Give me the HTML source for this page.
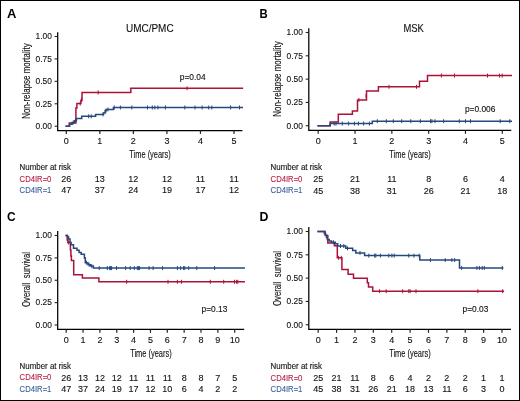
<!DOCTYPE html>
<html><head><meta charset="utf-8"><style>
html,body{margin:0;padding:0;background:#fff;}
body{width:520px;height:401px;overflow:hidden;}
svg{display:block;will-change:transform;}
svg text{font-family:"Liberation Sans", sans-serif;}
</style></head><body>
<svg width="520" height="401" viewBox="0 0 520 401">

<path d="M57.7,32.2 L57.7,130.5 L242.4,130.5" fill="none" stroke="#000" stroke-width="1.25"/>
<path d="M54.6,126.20 H57.7" stroke="#222" stroke-width="1.1"/>
<text x="51.80" y="129.00" font-size="9.1" text-anchor="end" fill="#111" stroke="#111" stroke-width="0.12" font-weight="normal" textLength="16.3" lengthAdjust="spacingAndGlyphs">0.00</text>
<path d="M54.6,103.78 H57.7" stroke="#222" stroke-width="1.1"/>
<text x="51.80" y="106.58" font-size="9.1" text-anchor="end" fill="#111" stroke="#111" stroke-width="0.12" font-weight="normal" textLength="16.3" lengthAdjust="spacingAndGlyphs">0.25</text>
<path d="M54.6,81.35 H57.7" stroke="#222" stroke-width="1.1"/>
<text x="51.80" y="84.15" font-size="9.1" text-anchor="end" fill="#111" stroke="#111" stroke-width="0.12" font-weight="normal" textLength="16.3" lengthAdjust="spacingAndGlyphs">0.50</text>
<path d="M54.6,58.92 H57.7" stroke="#222" stroke-width="1.1"/>
<text x="51.80" y="61.72" font-size="9.1" text-anchor="end" fill="#111" stroke="#111" stroke-width="0.12" font-weight="normal" textLength="16.3" lengthAdjust="spacingAndGlyphs">0.75</text>
<path d="M54.6,36.50 H57.7" stroke="#222" stroke-width="1.1"/>
<text x="51.80" y="39.30" font-size="9.1" text-anchor="end" fill="#111" stroke="#111" stroke-width="0.12" font-weight="normal" textLength="16.3" lengthAdjust="spacingAndGlyphs">1.00</text>
<path d="M66.30,130.5 V133.9" stroke="#222" stroke-width="1.2"/>
<text x="66.30" y="143.6" font-size="9" text-anchor="middle" fill="#111" stroke="#111" stroke-width="0.12" font-weight="normal">0</text>
<path d="M99.84,130.5 V133.9" stroke="#222" stroke-width="1.2"/>
<text x="99.84" y="143.6" font-size="9" text-anchor="middle" fill="#111" stroke="#111" stroke-width="0.12" font-weight="normal">1</text>
<path d="M133.38,130.5 V133.9" stroke="#222" stroke-width="1.2"/>
<text x="133.38" y="143.6" font-size="9" text-anchor="middle" fill="#111" stroke="#111" stroke-width="0.12" font-weight="normal">2</text>
<path d="M166.92,130.5 V133.9" stroke="#222" stroke-width="1.2"/>
<text x="166.92" y="143.6" font-size="9" text-anchor="middle" fill="#111" stroke="#111" stroke-width="0.12" font-weight="normal">3</text>
<path d="M200.46,130.5 V133.9" stroke="#222" stroke-width="1.2"/>
<text x="200.46" y="143.6" font-size="9" text-anchor="middle" fill="#111" stroke="#111" stroke-width="0.12" font-weight="normal">4</text>
<path d="M234.00,130.5 V133.9" stroke="#222" stroke-width="1.2"/>
<text x="234.00" y="143.6" font-size="9" text-anchor="middle" fill="#111" stroke="#111" stroke-width="0.12" font-weight="normal">5</text>
<text x="150.05" y="157.8" font-size="10" text-anchor="middle" fill="#111" stroke="#111" stroke-width="0.12" font-weight="normal" textLength="41.5" lengthAdjust="spacingAndGlyphs">Time (years)</text>
<text transform="translate(29.6,81.1) rotate(-90)" x="0" y="0" font-size="10" text-anchor="middle" fill="#111" stroke="#111" stroke-width="0.12" textLength="75.4" lengthAdjust="spacingAndGlyphs">Non-relapse mortality</text>
<text x="149.8" y="31.8" font-size="10.3" text-anchor="middle" fill="#111" stroke="#111" stroke-width="0.12" font-weight="normal" textLength="47.6" lengthAdjust="spacingAndGlyphs">UMC/PMC</text>
<text x="179.8" y="79.90" font-size="8.4" text-anchor="start" fill="#111" stroke="#111" stroke-width="0.12" font-weight="normal">p=0.04</text>
<path d="M66.30,126.30 L69.30,126.30 L69.30,122.90 L75.90,122.90 L75.90,108.00 L76.90,108.00 L76.90,103.60 L80.90,103.60 L80.90,100.50 L82.00,100.50 L82.00,92.40 L130.80,92.40 L130.80,88.30 L242.40,88.30" fill="none" stroke="#aa1238" stroke-width="1.5" stroke-linejoin="miter" stroke-linecap="square"/>
<path d="M80.20,101.60 V105.60" stroke="#aa1238" stroke-width="1"/>
<path d="M81.40,97.80 V101.80" stroke="#aa1238" stroke-width="1"/>
<path d="M98.20,90.40 V94.40" stroke="#aa1238" stroke-width="1"/>
<path d="M187.10,86.30 V90.30" stroke="#aa1238" stroke-width="1"/>
<path d="M66.30,126.20 L69.60,126.20 L69.60,124.30 L72.10,124.30 L72.10,122.60 L74.40,122.60 L74.40,120.70 L76.40,120.70 L76.40,118.50 L81.70,118.50 L81.70,116.30 L95.60,116.30 L95.60,114.40 L103.50,114.40 L103.50,112.90 L105.10,112.90 L105.10,110.60 L106.50,110.60 L106.50,109.40 L113.40,109.40 L113.40,107.50 L242.30,107.50" fill="none" stroke="#26487d" stroke-width="1.5" stroke-linejoin="miter" stroke-linecap="square"/>
<path d="M73.20,120.60 V124.60" stroke="#26487d" stroke-width="1"/>
<path d="M75.40,118.70 V122.70" stroke="#26487d" stroke-width="1"/>
<path d="M88.70,114.30 V118.30" stroke="#26487d" stroke-width="1"/>
<path d="M91.20,114.30 V118.30" stroke="#26487d" stroke-width="1"/>
<path d="M103.00,112.40 V116.40" stroke="#26487d" stroke-width="1"/>
<path d="M106.00,108.60 V112.60" stroke="#26487d" stroke-width="1"/>
<path d="M108.00,107.40 V111.40" stroke="#26487d" stroke-width="1"/>
<path d="M114.30,105.50 V109.50" stroke="#26487d" stroke-width="1"/>
<path d="M120.40,105.50 V109.50" stroke="#26487d" stroke-width="1"/>
<path d="M131.80,105.50 V109.50" stroke="#26487d" stroke-width="1"/>
<path d="M147.50,105.50 V109.50" stroke="#26487d" stroke-width="1"/>
<path d="M152.30,105.50 V109.50" stroke="#26487d" stroke-width="1"/>
<path d="M154.80,105.50 V109.50" stroke="#26487d" stroke-width="1"/>
<path d="M157.90,105.50 V109.50" stroke="#26487d" stroke-width="1"/>
<path d="M165.40,105.50 V109.50" stroke="#26487d" stroke-width="1"/>
<path d="M184.80,105.50 V109.50" stroke="#26487d" stroke-width="1"/>
<path d="M195.00,105.50 V109.50" stroke="#26487d" stroke-width="1"/>
<path d="M202.10,105.50 V109.50" stroke="#26487d" stroke-width="1"/>
<path d="M208.70,105.50 V109.50" stroke="#26487d" stroke-width="1"/>
<path d="M211.80,105.50 V109.50" stroke="#26487d" stroke-width="1"/>
<path d="M230.60,105.50 V109.50" stroke="#26487d" stroke-width="1"/>
<path d="M239.50,105.50 V109.50" stroke="#26487d" stroke-width="1"/>
<text x="7.1" y="17.9" font-size="12" text-anchor="start" fill="#000" font-weight="bold" textLength="9.4" lengthAdjust="spacingAndGlyphs">A</text>
<text x="19.6" y="169.60" font-size="8.4" text-anchor="start" fill="#111" stroke="#111" stroke-width="0.12" font-weight="normal" textLength="51.4" lengthAdjust="spacingAndGlyphs">Number at risk</text>
<text x="19.6" y="181.50" font-size="8.6" text-anchor="start" fill="#b51f45" stroke="#b51f45" stroke-width="0.12" font-weight="normal" textLength="31.8" lengthAdjust="spacingAndGlyphs">CD4IR=0</text>
<text x="19.6" y="193.00" font-size="8.6" text-anchor="start" fill="#3a5f9c" stroke="#3a5f9c" stroke-width="0.12" font-weight="normal" textLength="31.8" lengthAdjust="spacingAndGlyphs">CD4IR=1</text>
<text x="66.30" y="181.80" font-size="9" text-anchor="middle" fill="#111" stroke="#111" stroke-width="0.12" font-weight="normal">26</text>
<text x="99.84" y="181.80" font-size="9" text-anchor="middle" fill="#111" stroke="#111" stroke-width="0.12" font-weight="normal">13</text>
<text x="133.38" y="181.80" font-size="9" text-anchor="middle" fill="#111" stroke="#111" stroke-width="0.12" font-weight="normal">12</text>
<text x="166.92" y="181.80" font-size="9" text-anchor="middle" fill="#111" stroke="#111" stroke-width="0.12" font-weight="normal">12</text>
<text x="200.46" y="181.80" font-size="9" text-anchor="middle" fill="#111" stroke="#111" stroke-width="0.12" font-weight="normal">11</text>
<text x="234.00" y="181.80" font-size="9" text-anchor="middle" fill="#111" stroke="#111" stroke-width="0.12" font-weight="normal">11</text>
<text x="66.30" y="193.30" font-size="9" text-anchor="middle" fill="#111" stroke="#111" stroke-width="0.12" font-weight="normal">47</text>
<text x="99.84" y="193.30" font-size="9" text-anchor="middle" fill="#111" stroke="#111" stroke-width="0.12" font-weight="normal">37</text>
<text x="133.38" y="193.30" font-size="9" text-anchor="middle" fill="#111" stroke="#111" stroke-width="0.12" font-weight="normal">24</text>
<text x="166.92" y="193.30" font-size="9" text-anchor="middle" fill="#111" stroke="#111" stroke-width="0.12" font-weight="normal">19</text>
<text x="200.46" y="193.30" font-size="9" text-anchor="middle" fill="#111" stroke="#111" stroke-width="0.12" font-weight="normal">17</text>
<text x="234.00" y="193.30" font-size="9" text-anchor="middle" fill="#111" stroke="#111" stroke-width="0.12" font-weight="normal">12</text>
<path d="M308.8,28.2 L308.8,130.4 L511.3,130.4" fill="none" stroke="#000" stroke-width="1.25"/>
<path d="M305.7,125.75 H308.8" stroke="#222" stroke-width="1.1"/>
<text x="302.80" y="128.55" font-size="9.1" text-anchor="end" fill="#111" stroke="#111" stroke-width="0.12" font-weight="normal" textLength="16.3" lengthAdjust="spacingAndGlyphs">0.00</text>
<path d="M305.7,102.44 H308.8" stroke="#222" stroke-width="1.1"/>
<text x="302.80" y="105.24" font-size="9.1" text-anchor="end" fill="#111" stroke="#111" stroke-width="0.12" font-weight="normal" textLength="16.3" lengthAdjust="spacingAndGlyphs">0.25</text>
<path d="M305.7,79.12 H308.8" stroke="#222" stroke-width="1.1"/>
<text x="302.80" y="81.92" font-size="9.1" text-anchor="end" fill="#111" stroke="#111" stroke-width="0.12" font-weight="normal" textLength="16.3" lengthAdjust="spacingAndGlyphs">0.50</text>
<path d="M305.7,55.81 H308.8" stroke="#222" stroke-width="1.1"/>
<text x="302.80" y="58.61" font-size="9.1" text-anchor="end" fill="#111" stroke="#111" stroke-width="0.12" font-weight="normal" textLength="16.3" lengthAdjust="spacingAndGlyphs">0.75</text>
<path d="M305.7,32.50 H308.8" stroke="#222" stroke-width="1.1"/>
<text x="302.80" y="35.30" font-size="9.1" text-anchor="end" fill="#111" stroke="#111" stroke-width="0.12" font-weight="normal" textLength="16.3" lengthAdjust="spacingAndGlyphs">1.00</text>
<path d="M318.20,130.4 V133.8" stroke="#222" stroke-width="1.2"/>
<text x="318.20" y="143.7" font-size="9" text-anchor="middle" fill="#111" stroke="#111" stroke-width="0.12" font-weight="normal">0</text>
<path d="M355.02,130.4 V133.8" stroke="#222" stroke-width="1.2"/>
<text x="355.02" y="143.7" font-size="9" text-anchor="middle" fill="#111" stroke="#111" stroke-width="0.12" font-weight="normal">1</text>
<path d="M391.84,130.4 V133.8" stroke="#222" stroke-width="1.2"/>
<text x="391.84" y="143.7" font-size="9" text-anchor="middle" fill="#111" stroke="#111" stroke-width="0.12" font-weight="normal">2</text>
<path d="M428.66,130.4 V133.8" stroke="#222" stroke-width="1.2"/>
<text x="428.66" y="143.7" font-size="9" text-anchor="middle" fill="#111" stroke="#111" stroke-width="0.12" font-weight="normal">3</text>
<path d="M465.48,130.4 V133.8" stroke="#222" stroke-width="1.2"/>
<text x="465.48" y="143.7" font-size="9" text-anchor="middle" fill="#111" stroke="#111" stroke-width="0.12" font-weight="normal">4</text>
<path d="M502.30,130.4 V133.8" stroke="#222" stroke-width="1.2"/>
<text x="502.30" y="143.7" font-size="9" text-anchor="middle" fill="#111" stroke="#111" stroke-width="0.12" font-weight="normal">5</text>
<text x="410.05" y="157.8" font-size="10" text-anchor="middle" fill="#111" stroke="#111" stroke-width="0.12" font-weight="normal" textLength="41.5" lengthAdjust="spacingAndGlyphs">Time (years)</text>
<text transform="translate(280.8,79) rotate(-90)" x="0" y="0" font-size="10" text-anchor="middle" fill="#111" stroke="#111" stroke-width="0.12" textLength="75.4" lengthAdjust="spacingAndGlyphs">Non-relapse mortality</text>
<text x="413.6" y="31.8" font-size="10.3" text-anchor="middle" fill="#111" stroke="#111" stroke-width="0.12" font-weight="normal" textLength="20.4" lengthAdjust="spacingAndGlyphs">MSK</text>
<text x="464.9" y="111.50" font-size="8.4" text-anchor="start" fill="#111" stroke="#111" stroke-width="0.12" font-weight="normal">p=0.006</text>
<path d="M318.20,125.80 L330.20,125.80 L330.20,122.10 L338.30,122.10 L338.30,114.30 L352.40,114.30 L352.40,110.90 L357.50,110.90 L357.50,99.90 L366.50,99.90 L366.50,91.00 L378.40,91.00 L378.40,86.80 L419.50,86.80 L419.50,81.30 L427.50,81.30 L427.50,75.60 L511.30,75.60" fill="none" stroke="#aa1238" stroke-width="1.5" stroke-linejoin="miter" stroke-linecap="square"/>
<path d="M357.50,105.60 V109.60" stroke="#aa1238" stroke-width="1"/>
<path d="M358.90,97.90 V101.90" stroke="#aa1238" stroke-width="1"/>
<path d="M366.10,94.00 V98.00" stroke="#aa1238" stroke-width="1"/>
<path d="M389.00,84.80 V88.80" stroke="#aa1238" stroke-width="1"/>
<path d="M416.50,84.80 V88.80" stroke="#aa1238" stroke-width="1"/>
<path d="M441.40,73.60 V77.60" stroke="#aa1238" stroke-width="1"/>
<path d="M454.50,73.60 V77.60" stroke="#aa1238" stroke-width="1"/>
<path d="M487.50,73.60 V77.60" stroke="#aa1238" stroke-width="1"/>
<path d="M499.50,73.60 V77.60" stroke="#aa1238" stroke-width="1"/>
<path d="M502.20,73.60 V77.60" stroke="#aa1238" stroke-width="1"/>
<path d="M318.20,125.80 L330.20,125.80 L330.20,123.60 L372.30,123.60 L372.30,121.20 L511.30,121.20" fill="none" stroke="#26487d" stroke-width="1.5" stroke-linejoin="miter" stroke-linecap="square"/>
<path d="M334.20,121.60 V125.60" stroke="#26487d" stroke-width="1"/>
<path d="M336.00,121.60 V125.60" stroke="#26487d" stroke-width="1"/>
<path d="M342.30,121.60 V125.60" stroke="#26487d" stroke-width="1"/>
<path d="M348.60,121.60 V125.60" stroke="#26487d" stroke-width="1"/>
<path d="M354.40,121.60 V125.60" stroke="#26487d" stroke-width="1"/>
<path d="M358.40,121.60 V125.60" stroke="#26487d" stroke-width="1"/>
<path d="M363.60,121.60 V125.60" stroke="#26487d" stroke-width="1"/>
<path d="M369.40,121.60 V125.60" stroke="#26487d" stroke-width="1"/>
<path d="M377.30,119.20 V123.20" stroke="#26487d" stroke-width="1"/>
<path d="M386.30,119.20 V123.20" stroke="#26487d" stroke-width="1"/>
<path d="M393.30,119.20 V123.20" stroke="#26487d" stroke-width="1"/>
<path d="M401.70,119.20 V123.20" stroke="#26487d" stroke-width="1"/>
<path d="M410.80,119.20 V123.20" stroke="#26487d" stroke-width="1"/>
<path d="M420.40,119.20 V123.20" stroke="#26487d" stroke-width="1"/>
<path d="M430.50,119.20 V123.20" stroke="#26487d" stroke-width="1"/>
<path d="M431.90,119.20 V123.20" stroke="#26487d" stroke-width="1"/>
<path d="M435.00,119.20 V123.20" stroke="#26487d" stroke-width="1"/>
<path d="M443.60,119.20 V123.20" stroke="#26487d" stroke-width="1"/>
<path d="M459.30,119.20 V123.20" stroke="#26487d" stroke-width="1"/>
<path d="M465.50,119.20 V123.20" stroke="#26487d" stroke-width="1"/>
<path d="M470.50,119.20 V123.20" stroke="#26487d" stroke-width="1"/>
<path d="M500.20,119.20 V123.20" stroke="#26487d" stroke-width="1"/>
<path d="M509.80,119.20 V123.20" stroke="#26487d" stroke-width="1"/>
<text x="259.5" y="17.5" font-size="12" text-anchor="start" fill="#000" font-weight="bold" textLength="8.2" lengthAdjust="spacingAndGlyphs">B</text>
<text x="270.6" y="169.80" font-size="8.4" text-anchor="start" fill="#111" stroke="#111" stroke-width="0.12" font-weight="normal" textLength="51.4" lengthAdjust="spacingAndGlyphs">Number at risk</text>
<text x="270.6" y="181.70" font-size="8.6" text-anchor="start" fill="#b51f45" stroke="#b51f45" stroke-width="0.12" font-weight="normal" textLength="31.8" lengthAdjust="spacingAndGlyphs">CD4IR=0</text>
<text x="270.6" y="193.20" font-size="8.6" text-anchor="start" fill="#3a5f9c" stroke="#3a5f9c" stroke-width="0.12" font-weight="normal" textLength="31.8" lengthAdjust="spacingAndGlyphs">CD4IR=1</text>
<text x="318.20" y="182.00" font-size="9" text-anchor="middle" fill="#111" stroke="#111" stroke-width="0.12" font-weight="normal">25</text>
<text x="355.02" y="182.00" font-size="9" text-anchor="middle" fill="#111" stroke="#111" stroke-width="0.12" font-weight="normal">21</text>
<text x="391.84" y="182.00" font-size="9" text-anchor="middle" fill="#111" stroke="#111" stroke-width="0.12" font-weight="normal">11</text>
<text x="428.66" y="182.00" font-size="9" text-anchor="middle" fill="#111" stroke="#111" stroke-width="0.12" font-weight="normal">8</text>
<text x="465.48" y="182.00" font-size="9" text-anchor="middle" fill="#111" stroke="#111" stroke-width="0.12" font-weight="normal">6</text>
<text x="502.30" y="182.00" font-size="9" text-anchor="middle" fill="#111" stroke="#111" stroke-width="0.12" font-weight="normal">4</text>
<text x="318.20" y="193.50" font-size="9" text-anchor="middle" fill="#111" stroke="#111" stroke-width="0.12" font-weight="normal">45</text>
<text x="355.02" y="193.50" font-size="9" text-anchor="middle" fill="#111" stroke="#111" stroke-width="0.12" font-weight="normal">38</text>
<text x="391.84" y="193.50" font-size="9" text-anchor="middle" fill="#111" stroke="#111" stroke-width="0.12" font-weight="normal">31</text>
<text x="428.66" y="193.50" font-size="9" text-anchor="middle" fill="#111" stroke="#111" stroke-width="0.12" font-weight="normal">26</text>
<text x="465.48" y="193.50" font-size="9" text-anchor="middle" fill="#111" stroke="#111" stroke-width="0.12" font-weight="normal">21</text>
<text x="502.30" y="193.50" font-size="9" text-anchor="middle" fill="#111" stroke="#111" stroke-width="0.12" font-weight="normal">18</text>
<path d="M57.7,231 L57.7,329.4 L244.2,329.4" fill="none" stroke="#000" stroke-width="1.25"/>
<path d="M54.6,325.00 H57.7" stroke="#222" stroke-width="1.1"/>
<text x="51.80" y="327.80" font-size="9.1" text-anchor="end" fill="#111" stroke="#111" stroke-width="0.12" font-weight="normal" textLength="16.3" lengthAdjust="spacingAndGlyphs">0.00</text>
<path d="M54.6,302.62 H57.7" stroke="#222" stroke-width="1.1"/>
<text x="51.80" y="305.43" font-size="9.1" text-anchor="end" fill="#111" stroke="#111" stroke-width="0.12" font-weight="normal" textLength="16.3" lengthAdjust="spacingAndGlyphs">0.25</text>
<path d="M54.6,280.25 H57.7" stroke="#222" stroke-width="1.1"/>
<text x="51.80" y="283.05" font-size="9.1" text-anchor="end" fill="#111" stroke="#111" stroke-width="0.12" font-weight="normal" textLength="16.3" lengthAdjust="spacingAndGlyphs">0.50</text>
<path d="M54.6,257.88 H57.7" stroke="#222" stroke-width="1.1"/>
<text x="51.80" y="260.68" font-size="9.1" text-anchor="end" fill="#111" stroke="#111" stroke-width="0.12" font-weight="normal" textLength="16.3" lengthAdjust="spacingAndGlyphs">0.75</text>
<path d="M54.6,235.50 H57.7" stroke="#222" stroke-width="1.1"/>
<text x="51.80" y="238.30" font-size="9.1" text-anchor="end" fill="#111" stroke="#111" stroke-width="0.12" font-weight="normal" textLength="16.3" lengthAdjust="spacingAndGlyphs">1.00</text>
<path d="M66.20,329.4 V332.79999999999995" stroke="#222" stroke-width="1.2"/>
<text x="66.20" y="342.7" font-size="9" text-anchor="middle" fill="#111" stroke="#111" stroke-width="0.12" font-weight="normal">0</text>
<path d="M83.05,329.4 V332.79999999999995" stroke="#222" stroke-width="1.2"/>
<text x="83.05" y="342.7" font-size="9" text-anchor="middle" fill="#111" stroke="#111" stroke-width="0.12" font-weight="normal">1</text>
<path d="M99.90,329.4 V332.79999999999995" stroke="#222" stroke-width="1.2"/>
<text x="99.90" y="342.7" font-size="9" text-anchor="middle" fill="#111" stroke="#111" stroke-width="0.12" font-weight="normal">2</text>
<path d="M116.75,329.4 V332.79999999999995" stroke="#222" stroke-width="1.2"/>
<text x="116.75" y="342.7" font-size="9" text-anchor="middle" fill="#111" stroke="#111" stroke-width="0.12" font-weight="normal">3</text>
<path d="M133.60,329.4 V332.79999999999995" stroke="#222" stroke-width="1.2"/>
<text x="133.60" y="342.7" font-size="9" text-anchor="middle" fill="#111" stroke="#111" stroke-width="0.12" font-weight="normal">4</text>
<path d="M150.45,329.4 V332.79999999999995" stroke="#222" stroke-width="1.2"/>
<text x="150.45" y="342.7" font-size="9" text-anchor="middle" fill="#111" stroke="#111" stroke-width="0.12" font-weight="normal">5</text>
<path d="M167.30,329.4 V332.79999999999995" stroke="#222" stroke-width="1.2"/>
<text x="167.30" y="342.7" font-size="9" text-anchor="middle" fill="#111" stroke="#111" stroke-width="0.12" font-weight="normal">6</text>
<path d="M184.15,329.4 V332.79999999999995" stroke="#222" stroke-width="1.2"/>
<text x="184.15" y="342.7" font-size="9" text-anchor="middle" fill="#111" stroke="#111" stroke-width="0.12" font-weight="normal">7</text>
<path d="M201.00,329.4 V332.79999999999995" stroke="#222" stroke-width="1.2"/>
<text x="201.00" y="342.7" font-size="9" text-anchor="middle" fill="#111" stroke="#111" stroke-width="0.12" font-weight="normal">8</text>
<path d="M217.85,329.4 V332.79999999999995" stroke="#222" stroke-width="1.2"/>
<text x="217.85" y="342.7" font-size="9" text-anchor="middle" fill="#111" stroke="#111" stroke-width="0.12" font-weight="normal">9</text>
<path d="M234.70,329.4 V332.79999999999995" stroke="#222" stroke-width="1.2"/>
<text x="234.70" y="342.7" font-size="9" text-anchor="middle" fill="#111" stroke="#111" stroke-width="0.12" font-weight="normal">10</text>
<text x="150.95" y="356.6" font-size="10" text-anchor="middle" fill="#111" stroke="#111" stroke-width="0.12" font-weight="normal" textLength="41.5" lengthAdjust="spacingAndGlyphs">Time (years)</text>
<text transform="translate(29.8,279.5) rotate(-90)" x="0" y="0" font-size="10" text-anchor="middle" fill="#111" stroke="#111" stroke-width="0.12" textLength="55" lengthAdjust="spacingAndGlyphs">Overall&#160;&#160;survival</text>
<text x="201.5" y="312.00" font-size="8.4" text-anchor="start" fill="#111" stroke="#111" stroke-width="0.12" font-weight="normal">p=0.13</text>
<path d="M66.20,235.50 L67.20,235.50 L67.20,240.00 L67.80,240.00 L67.80,242.60 L70.40,242.60 L70.40,250.00 L70.90,250.00 L70.90,256.00 L71.40,256.00 L71.40,260.50 L73.70,260.50 L73.70,274.80 L82.40,274.80 L82.40,277.90 L98.90,277.90 L98.90,281.80 L244.20,281.80" fill="none" stroke="#aa1238" stroke-width="1.5" stroke-linejoin="miter" stroke-linecap="square"/>
<path d="M68.60,240.60 V244.60" stroke="#aa1238" stroke-width="1"/>
<path d="M126.70,279.80 V283.80" stroke="#aa1238" stroke-width="1"/>
<path d="M168.00,279.80 V283.80" stroke="#aa1238" stroke-width="1"/>
<path d="M177.40,279.80 V283.80" stroke="#aa1238" stroke-width="1"/>
<path d="M181.40,279.80 V283.80" stroke="#aa1238" stroke-width="1"/>
<path d="M210.30,279.80 V283.80" stroke="#aa1238" stroke-width="1"/>
<path d="M223.70,279.80 V283.80" stroke="#aa1238" stroke-width="1"/>
<path d="M234.50,279.80 V283.80" stroke="#aa1238" stroke-width="1"/>
<path d="M236.60,279.80 V283.80" stroke="#aa1238" stroke-width="1"/>
<path d="M237.80,279.80 V283.80" stroke="#aa1238" stroke-width="1"/>
<path d="M66.20,235.50 L67.60,235.50 L67.60,237.00 L68.60,237.00 L68.60,239.10 L70.00,239.10 L70.00,242.60 L71.10,242.60 L71.10,244.70 L73.50,244.70 L73.50,248.20 L77.00,248.20 L77.00,250.30 L79.10,250.30 L79.10,252.40 L81.20,252.40 L81.20,254.30 L84.40,254.30 L84.40,258.00 L85.30,258.00 L85.30,262.70 L88.00,262.70 L88.00,264.80 L90.60,264.80 L90.60,266.10 L93.40,266.10 L93.40,268.10 L244.20,268.10" fill="none" stroke="#26487d" stroke-width="1.5" stroke-linejoin="miter" stroke-linecap="square"/>
<path d="M86.50,260.70 V264.70" stroke="#26487d" stroke-width="1"/>
<path d="M89.20,262.80 V266.80" stroke="#26487d" stroke-width="1"/>
<path d="M91.80,264.10 V268.10" stroke="#26487d" stroke-width="1"/>
<path d="M99.20,266.10 V270.10" stroke="#26487d" stroke-width="1"/>
<path d="M107.30,266.10 V270.10" stroke="#26487d" stroke-width="1"/>
<path d="M109.60,266.10 V270.10" stroke="#26487d" stroke-width="1"/>
<path d="M110.60,266.10 V270.10" stroke="#26487d" stroke-width="1"/>
<path d="M111.60,266.10 V270.10" stroke="#26487d" stroke-width="1"/>
<path d="M116.50,266.10 V270.10" stroke="#26487d" stroke-width="1"/>
<path d="M125.60,266.10 V270.10" stroke="#26487d" stroke-width="1"/>
<path d="M130.20,266.10 V270.10" stroke="#26487d" stroke-width="1"/>
<path d="M134.30,266.10 V270.10" stroke="#26487d" stroke-width="1"/>
<path d="M137.30,266.10 V270.10" stroke="#26487d" stroke-width="1"/>
<path d="M138.40,266.10 V270.10" stroke="#26487d" stroke-width="1"/>
<path d="M139.60,266.10 V270.10" stroke="#26487d" stroke-width="1"/>
<path d="M149.10,266.10 V270.10" stroke="#26487d" stroke-width="1"/>
<path d="M153.10,266.10 V270.10" stroke="#26487d" stroke-width="1"/>
<path d="M162.60,266.10 V270.10" stroke="#26487d" stroke-width="1"/>
<path d="M177.40,266.10 V270.10" stroke="#26487d" stroke-width="1"/>
<path d="M180.60,266.10 V270.10" stroke="#26487d" stroke-width="1"/>
<path d="M183.60,266.10 V270.10" stroke="#26487d" stroke-width="1"/>
<path d="M184.80,266.10 V270.10" stroke="#26487d" stroke-width="1"/>
<path d="M188.70,266.10 V270.10" stroke="#26487d" stroke-width="1"/>
<path d="M196.80,266.10 V270.10" stroke="#26487d" stroke-width="1"/>
<path d="M214.60,266.10 V270.10" stroke="#26487d" stroke-width="1"/>
<text x="7" y="220.9" font-size="12" text-anchor="start" fill="#000" font-weight="bold" textLength="8.66" lengthAdjust="spacingAndGlyphs">C</text>
<text x="19.6" y="368.50" font-size="8.4" text-anchor="start" fill="#111" stroke="#111" stroke-width="0.12" font-weight="normal" textLength="51.4" lengthAdjust="spacingAndGlyphs">Number at risk</text>
<text x="19.6" y="380.40" font-size="8.6" text-anchor="start" fill="#b51f45" stroke="#b51f45" stroke-width="0.12" font-weight="normal" textLength="31.8" lengthAdjust="spacingAndGlyphs">CD4IR=0</text>
<text x="19.6" y="391.90" font-size="8.6" text-anchor="start" fill="#3a5f9c" stroke="#3a5f9c" stroke-width="0.12" font-weight="normal" textLength="31.8" lengthAdjust="spacingAndGlyphs">CD4IR=1</text>
<text x="66.20" y="380.70" font-size="9" text-anchor="middle" fill="#111" stroke="#111" stroke-width="0.12" font-weight="normal">26</text>
<text x="83.05" y="380.70" font-size="9" text-anchor="middle" fill="#111" stroke="#111" stroke-width="0.12" font-weight="normal">13</text>
<text x="99.90" y="380.70" font-size="9" text-anchor="middle" fill="#111" stroke="#111" stroke-width="0.12" font-weight="normal">12</text>
<text x="116.75" y="380.70" font-size="9" text-anchor="middle" fill="#111" stroke="#111" stroke-width="0.12" font-weight="normal">12</text>
<text x="133.60" y="380.70" font-size="9" text-anchor="middle" fill="#111" stroke="#111" stroke-width="0.12" font-weight="normal">11</text>
<text x="150.45" y="380.70" font-size="9" text-anchor="middle" fill="#111" stroke="#111" stroke-width="0.12" font-weight="normal">11</text>
<text x="167.30" y="380.70" font-size="9" text-anchor="middle" fill="#111" stroke="#111" stroke-width="0.12" font-weight="normal">11</text>
<text x="184.15" y="380.70" font-size="9" text-anchor="middle" fill="#111" stroke="#111" stroke-width="0.12" font-weight="normal">8</text>
<text x="201.00" y="380.70" font-size="9" text-anchor="middle" fill="#111" stroke="#111" stroke-width="0.12" font-weight="normal">8</text>
<text x="217.85" y="380.70" font-size="9" text-anchor="middle" fill="#111" stroke="#111" stroke-width="0.12" font-weight="normal">7</text>
<text x="234.70" y="380.70" font-size="9" text-anchor="middle" fill="#111" stroke="#111" stroke-width="0.12" font-weight="normal">5</text>
<text x="66.20" y="392.20" font-size="9" text-anchor="middle" fill="#111" stroke="#111" stroke-width="0.12" font-weight="normal">47</text>
<text x="83.05" y="392.20" font-size="9" text-anchor="middle" fill="#111" stroke="#111" stroke-width="0.12" font-weight="normal">37</text>
<text x="99.90" y="392.20" font-size="9" text-anchor="middle" fill="#111" stroke="#111" stroke-width="0.12" font-weight="normal">24</text>
<text x="116.75" y="392.20" font-size="9" text-anchor="middle" fill="#111" stroke="#111" stroke-width="0.12" font-weight="normal">19</text>
<text x="133.60" y="392.20" font-size="9" text-anchor="middle" fill="#111" stroke="#111" stroke-width="0.12" font-weight="normal">17</text>
<text x="150.45" y="392.20" font-size="9" text-anchor="middle" fill="#111" stroke="#111" stroke-width="0.12" font-weight="normal">12</text>
<text x="167.30" y="392.20" font-size="9" text-anchor="middle" fill="#111" stroke="#111" stroke-width="0.12" font-weight="normal">10</text>
<text x="184.15" y="392.20" font-size="9" text-anchor="middle" fill="#111" stroke="#111" stroke-width="0.12" font-weight="normal">6</text>
<text x="201.00" y="392.20" font-size="9" text-anchor="middle" fill="#111" stroke="#111" stroke-width="0.12" font-weight="normal">4</text>
<text x="217.85" y="392.20" font-size="9" text-anchor="middle" fill="#111" stroke="#111" stroke-width="0.12" font-weight="normal">2</text>
<text x="234.70" y="392.20" font-size="9" text-anchor="middle" fill="#111" stroke="#111" stroke-width="0.12" font-weight="normal">2</text>
<path d="M308.8,227 L308.8,329.4 L511,329.4" fill="none" stroke="#000" stroke-width="1.25"/>
<path d="M305.7,324.75 H308.8" stroke="#222" stroke-width="1.1"/>
<text x="302.80" y="327.55" font-size="9.1" text-anchor="end" fill="#111" stroke="#111" stroke-width="0.12" font-weight="normal" textLength="16.3" lengthAdjust="spacingAndGlyphs">0.00</text>
<path d="M305.7,301.44 H308.8" stroke="#222" stroke-width="1.1"/>
<text x="302.80" y="304.24" font-size="9.1" text-anchor="end" fill="#111" stroke="#111" stroke-width="0.12" font-weight="normal" textLength="16.3" lengthAdjust="spacingAndGlyphs">0.25</text>
<path d="M305.7,278.12 H308.8" stroke="#222" stroke-width="1.1"/>
<text x="302.80" y="280.93" font-size="9.1" text-anchor="end" fill="#111" stroke="#111" stroke-width="0.12" font-weight="normal" textLength="16.3" lengthAdjust="spacingAndGlyphs">0.50</text>
<path d="M305.7,254.81 H308.8" stroke="#222" stroke-width="1.1"/>
<text x="302.80" y="257.61" font-size="9.1" text-anchor="end" fill="#111" stroke="#111" stroke-width="0.12" font-weight="normal" textLength="16.3" lengthAdjust="spacingAndGlyphs">0.75</text>
<path d="M305.7,231.50 H308.8" stroke="#222" stroke-width="1.1"/>
<text x="302.80" y="234.30" font-size="9.1" text-anchor="end" fill="#111" stroke="#111" stroke-width="0.12" font-weight="normal" textLength="16.3" lengthAdjust="spacingAndGlyphs">1.00</text>
<path d="M318.20,329.4 V332.79999999999995" stroke="#222" stroke-width="1.2"/>
<text x="318.20" y="342.8" font-size="9" text-anchor="middle" fill="#111" stroke="#111" stroke-width="0.12" font-weight="normal">0</text>
<path d="M336.58,329.4 V332.79999999999995" stroke="#222" stroke-width="1.2"/>
<text x="336.58" y="342.8" font-size="9" text-anchor="middle" fill="#111" stroke="#111" stroke-width="0.12" font-weight="normal">1</text>
<path d="M354.96,329.4 V332.79999999999995" stroke="#222" stroke-width="1.2"/>
<text x="354.96" y="342.8" font-size="9" text-anchor="middle" fill="#111" stroke="#111" stroke-width="0.12" font-weight="normal">2</text>
<path d="M373.34,329.4 V332.79999999999995" stroke="#222" stroke-width="1.2"/>
<text x="373.34" y="342.8" font-size="9" text-anchor="middle" fill="#111" stroke="#111" stroke-width="0.12" font-weight="normal">3</text>
<path d="M391.72,329.4 V332.79999999999995" stroke="#222" stroke-width="1.2"/>
<text x="391.72" y="342.8" font-size="9" text-anchor="middle" fill="#111" stroke="#111" stroke-width="0.12" font-weight="normal">4</text>
<path d="M410.10,329.4 V332.79999999999995" stroke="#222" stroke-width="1.2"/>
<text x="410.10" y="342.8" font-size="9" text-anchor="middle" fill="#111" stroke="#111" stroke-width="0.12" font-weight="normal">5</text>
<path d="M428.48,329.4 V332.79999999999995" stroke="#222" stroke-width="1.2"/>
<text x="428.48" y="342.8" font-size="9" text-anchor="middle" fill="#111" stroke="#111" stroke-width="0.12" font-weight="normal">6</text>
<path d="M446.86,329.4 V332.79999999999995" stroke="#222" stroke-width="1.2"/>
<text x="446.86" y="342.8" font-size="9" text-anchor="middle" fill="#111" stroke="#111" stroke-width="0.12" font-weight="normal">7</text>
<path d="M465.24,329.4 V332.79999999999995" stroke="#222" stroke-width="1.2"/>
<text x="465.24" y="342.8" font-size="9" text-anchor="middle" fill="#111" stroke="#111" stroke-width="0.12" font-weight="normal">8</text>
<path d="M483.62,329.4 V332.79999999999995" stroke="#222" stroke-width="1.2"/>
<text x="483.62" y="342.8" font-size="9" text-anchor="middle" fill="#111" stroke="#111" stroke-width="0.12" font-weight="normal">9</text>
<path d="M502.00,329.4 V332.79999999999995" stroke="#222" stroke-width="1.2"/>
<text x="502.00" y="342.8" font-size="9" text-anchor="middle" fill="#111" stroke="#111" stroke-width="0.12" font-weight="normal">10</text>
<text x="409.90" y="356.6" font-size="10" text-anchor="middle" fill="#111" stroke="#111" stroke-width="0.12" font-weight="normal" textLength="41.5" lengthAdjust="spacingAndGlyphs">Time (years)</text>
<text transform="translate(281,278.5) rotate(-90)" x="0" y="0" font-size="10" text-anchor="middle" fill="#111" stroke="#111" stroke-width="0.12" textLength="55" lengthAdjust="spacingAndGlyphs">Overall&#160;&#160;survival</text>
<text x="462.5" y="312.10" font-size="8.4" text-anchor="start" fill="#111" stroke="#111" stroke-width="0.12" font-weight="normal">p=0.03</text>
<path d="M318.20,231.50 L325.20,231.50 L325.20,235.40 L327.80,235.40 L327.80,243.10 L334.40,243.10 L334.40,245.80 L337.30,245.80 L337.30,257.80 L341.90,257.80 L341.90,269.60 L348.10,269.60 L348.10,274.20 L353.50,274.20 L353.50,278.20 L367.30,278.20 L367.30,282.80 L368.50,282.80 L368.50,287.00 L372.70,287.00 L372.70,291.20 L503.30,291.20" fill="none" stroke="#aa1238" stroke-width="1.5" stroke-linejoin="miter" stroke-linecap="square"/>
<path d="M338.60,255.80 V259.80" stroke="#aa1238" stroke-width="1"/>
<path d="M341.30,255.80 V259.80" stroke="#aa1238" stroke-width="1"/>
<path d="M379.60,289.20 V293.20" stroke="#aa1238" stroke-width="1"/>
<path d="M386.20,289.20 V293.20" stroke="#aa1238" stroke-width="1"/>
<path d="M402.70,289.20 V293.20" stroke="#aa1238" stroke-width="1"/>
<path d="M408.80,289.20 V293.20" stroke="#aa1238" stroke-width="1"/>
<path d="M410.10,289.20 V293.20" stroke="#aa1238" stroke-width="1"/>
<path d="M416.00,289.20 V293.20" stroke="#aa1238" stroke-width="1"/>
<path d="M477.90,289.20 V293.20" stroke="#aa1238" stroke-width="1"/>
<path d="M502.70,289.20 V293.20" stroke="#aa1238" stroke-width="1"/>
<path d="M318.20,231.50 L324.30,231.50 L324.30,233.40 L325.60,233.40 L325.60,235.30 L326.50,235.30 L326.50,237.60 L327.30,237.60 L327.30,239.40 L329.20,239.40 L329.20,240.90 L331.50,240.90 L331.50,242.30 L335.30,242.30 L335.30,243.70 L337.70,243.70 L337.70,246.00 L345.80,246.00 L345.80,248.30 L352.70,248.30 L352.70,250.60 L355.80,250.60 L355.80,252.90 L364.60,252.90 L364.60,255.60 L419.80,255.60 L419.80,260.10 L459.50,260.10 L459.50,267.90 L502.70,267.90" fill="none" stroke="#26487d" stroke-width="1.5" stroke-linejoin="miter" stroke-linecap="square"/>
<path d="M333.50,240.30 V244.30" stroke="#26487d" stroke-width="1"/>
<path d="M340.50,244.00 V248.00" stroke="#26487d" stroke-width="1"/>
<path d="M343.80,244.00 V248.00" stroke="#26487d" stroke-width="1"/>
<path d="M347.50,246.30 V250.30" stroke="#26487d" stroke-width="1"/>
<path d="M360.00,250.90 V254.90" stroke="#26487d" stroke-width="1"/>
<path d="M368.80,253.60 V257.60" stroke="#26487d" stroke-width="1"/>
<path d="M374.70,253.60 V257.60" stroke="#26487d" stroke-width="1"/>
<path d="M375.80,253.60 V257.60" stroke="#26487d" stroke-width="1"/>
<path d="M380.40,253.60 V257.60" stroke="#26487d" stroke-width="1"/>
<path d="M388.80,253.60 V257.60" stroke="#26487d" stroke-width="1"/>
<path d="M391.90,253.60 V257.60" stroke="#26487d" stroke-width="1"/>
<path d="M394.20,253.60 V257.60" stroke="#26487d" stroke-width="1"/>
<path d="M408.80,253.60 V257.60" stroke="#26487d" stroke-width="1"/>
<path d="M413.90,253.60 V257.60" stroke="#26487d" stroke-width="1"/>
<path d="M419.20,253.60 V257.60" stroke="#26487d" stroke-width="1"/>
<path d="M430.40,258.10 V262.10" stroke="#26487d" stroke-width="1"/>
<path d="M445.20,258.10 V262.10" stroke="#26487d" stroke-width="1"/>
<path d="M451.90,258.10 V262.10" stroke="#26487d" stroke-width="1"/>
<path d="M454.70,258.10 V262.10" stroke="#26487d" stroke-width="1"/>
<path d="M461.70,265.90 V269.90" stroke="#26487d" stroke-width="1"/>
<path d="M476.90,265.90 V269.90" stroke="#26487d" stroke-width="1"/>
<path d="M479.40,265.90 V269.90" stroke="#26487d" stroke-width="1"/>
<path d="M482.20,265.90 V269.90" stroke="#26487d" stroke-width="1"/>
<path d="M484.30,265.90 V269.90" stroke="#26487d" stroke-width="1"/>
<path d="M502.30,265.90 V269.90" stroke="#26487d" stroke-width="1"/>
<text x="259.6" y="221.1" font-size="12" text-anchor="start" fill="#000" font-weight="bold" textLength="8.9" lengthAdjust="spacingAndGlyphs">D</text>
<text x="270.6" y="368.60" font-size="8.4" text-anchor="start" fill="#111" stroke="#111" stroke-width="0.12" font-weight="normal" textLength="51.4" lengthAdjust="spacingAndGlyphs">Number at risk</text>
<text x="270.6" y="380.50" font-size="8.6" text-anchor="start" fill="#b51f45" stroke="#b51f45" stroke-width="0.12" font-weight="normal" textLength="31.8" lengthAdjust="spacingAndGlyphs">CD4IR=0</text>
<text x="270.6" y="392.00" font-size="8.6" text-anchor="start" fill="#3a5f9c" stroke="#3a5f9c" stroke-width="0.12" font-weight="normal" textLength="31.8" lengthAdjust="spacingAndGlyphs">CD4IR=1</text>
<text x="318.20" y="380.80" font-size="9" text-anchor="middle" fill="#111" stroke="#111" stroke-width="0.12" font-weight="normal">25</text>
<text x="336.58" y="380.80" font-size="9" text-anchor="middle" fill="#111" stroke="#111" stroke-width="0.12" font-weight="normal">21</text>
<text x="354.96" y="380.80" font-size="9" text-anchor="middle" fill="#111" stroke="#111" stroke-width="0.12" font-weight="normal">11</text>
<text x="373.34" y="380.80" font-size="9" text-anchor="middle" fill="#111" stroke="#111" stroke-width="0.12" font-weight="normal">8</text>
<text x="391.72" y="380.80" font-size="9" text-anchor="middle" fill="#111" stroke="#111" stroke-width="0.12" font-weight="normal">6</text>
<text x="410.10" y="380.80" font-size="9" text-anchor="middle" fill="#111" stroke="#111" stroke-width="0.12" font-weight="normal">4</text>
<text x="428.48" y="380.80" font-size="9" text-anchor="middle" fill="#111" stroke="#111" stroke-width="0.12" font-weight="normal">2</text>
<text x="446.86" y="380.80" font-size="9" text-anchor="middle" fill="#111" stroke="#111" stroke-width="0.12" font-weight="normal">2</text>
<text x="465.24" y="380.80" font-size="9" text-anchor="middle" fill="#111" stroke="#111" stroke-width="0.12" font-weight="normal">2</text>
<text x="483.62" y="380.80" font-size="9" text-anchor="middle" fill="#111" stroke="#111" stroke-width="0.12" font-weight="normal">1</text>
<text x="502.00" y="380.80" font-size="9" text-anchor="middle" fill="#111" stroke="#111" stroke-width="0.12" font-weight="normal">1</text>
<text x="318.20" y="392.30" font-size="9" text-anchor="middle" fill="#111" stroke="#111" stroke-width="0.12" font-weight="normal">45</text>
<text x="336.58" y="392.30" font-size="9" text-anchor="middle" fill="#111" stroke="#111" stroke-width="0.12" font-weight="normal">38</text>
<text x="354.96" y="392.30" font-size="9" text-anchor="middle" fill="#111" stroke="#111" stroke-width="0.12" font-weight="normal">31</text>
<text x="373.34" y="392.30" font-size="9" text-anchor="middle" fill="#111" stroke="#111" stroke-width="0.12" font-weight="normal">26</text>
<text x="391.72" y="392.30" font-size="9" text-anchor="middle" fill="#111" stroke="#111" stroke-width="0.12" font-weight="normal">21</text>
<text x="410.10" y="392.30" font-size="9" text-anchor="middle" fill="#111" stroke="#111" stroke-width="0.12" font-weight="normal">18</text>
<text x="428.48" y="392.30" font-size="9" text-anchor="middle" fill="#111" stroke="#111" stroke-width="0.12" font-weight="normal">13</text>
<text x="446.86" y="392.30" font-size="9" text-anchor="middle" fill="#111" stroke="#111" stroke-width="0.12" font-weight="normal">11</text>
<text x="465.24" y="392.30" font-size="9" text-anchor="middle" fill="#111" stroke="#111" stroke-width="0.12" font-weight="normal">6</text>
<text x="483.62" y="392.30" font-size="9" text-anchor="middle" fill="#111" stroke="#111" stroke-width="0.12" font-weight="normal">3</text>
<text x="502.00" y="392.30" font-size="9" text-anchor="middle" fill="#111" stroke="#111" stroke-width="0.12" font-weight="normal">0</text>
<rect x="0.5" y="0.5" width="519" height="400" fill="none" stroke="#000" stroke-width="1"/>
</svg>
</body></html>
